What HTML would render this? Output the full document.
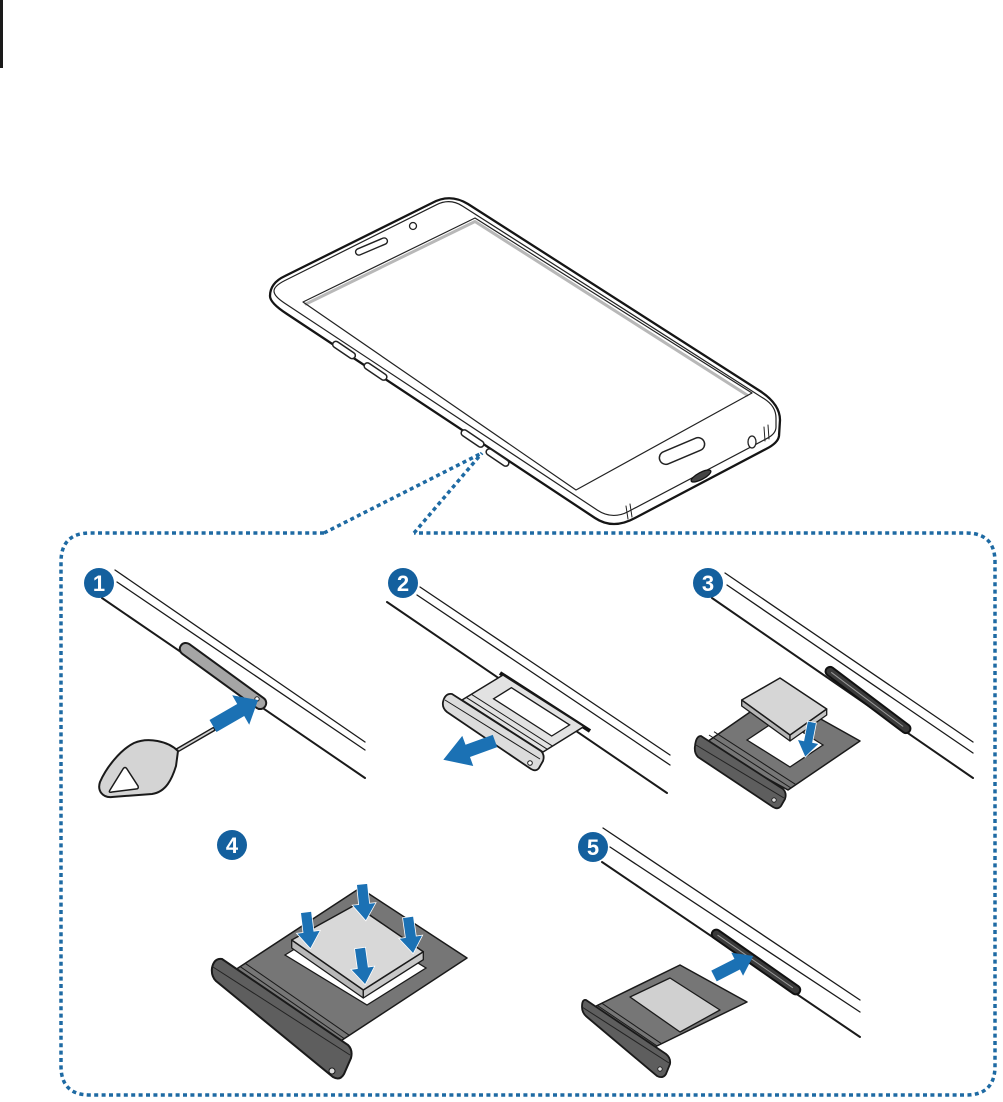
<!DOCTYPE html>
<html><head><meta charset="utf-8"><style>
html,body{margin:0;padding:0;background:#fff;}
svg{display:block;}
.b{font-family:"Liberation Sans",sans-serif;font-weight:bold;font-size:22px;fill:#fff;text-anchor:middle;}
</style></head><body>
<svg width="1003" height="1102" viewBox="0 0 1003 1102" xmlns="http://www.w3.org/2000/svg">
<rect width="1003" height="1102" fill="#fff"/>
<rect x="0" y="0" width="3" height="68" fill="#1a1a1a"/>

<!-- PHONE -->
<g stroke-linejoin="round" stroke-linecap="round">
<path d="M270,296 Q270,283 285,276 L432,203 Q450,193 468,204 L760,391 Q780,404 780,420 L779,436 Q778,443 766,449 L635,518 Q613,530 595,518 L287,314 Q270,303 270,296 Z" fill="#fff" stroke="#151515" stroke-width="2.3"/>
<path d="M274,291 Q274,286 284.7,280.6 L436.6,204.7 Q450,198 462.6,206.1 L764.2,398.8 Q776,406.3 776,418 L776,427 Q776,433.6 767.2,438.3 L628.2,511.6 Q612.3,520 597.3,510.1 L284,302.7 Q274,296.1 274,291 Z" fill="none" stroke="#222" stroke-width="1.2"/>
<polyline points="306,304 475,221.5 747,395" fill="none" stroke="#b8b8b8" stroke-width="3"/>
<polygon points="303,302 475,218 752,393 576,490" fill="none" stroke="#222" stroke-width="1.2"/>
<rect x="-17" y="-3.2" width="34" height="6.4" rx="3.2" transform="translate(371.5,246.5) rotate(-23)" fill="#fff" stroke="#222" stroke-width="1.4"/>
<circle cx="413" cy="226" r="3.5" fill="#fff" stroke="#222" stroke-width="1.3"/>
<rect x="-24" y="-6.5" width="48" height="13" rx="6.5" transform="translate(682,451) rotate(-23)" fill="#fff" stroke="#222" stroke-width="1.5"/>
<ellipse cx="701" cy="476" rx="11" ry="3.5" transform="rotate(-28 701 476)" fill="#444" stroke="#111" stroke-width="1.3"/>
<ellipse cx="752" cy="442" rx="4" ry="6" fill="#fff" stroke="#222" stroke-width="1.3"/>
<line x1="626" y1="506" x2="628" y2="519" stroke="#222" stroke-width="1"/>
<line x1="630" y1="504" x2="632" y2="517" stroke="#222" stroke-width="1"/>
<line x1="764" y1="427" x2="765" y2="441" stroke="#222" stroke-width="1"/>
<line x1="768" y1="425" x2="769" y2="439" stroke="#222" stroke-width="1"/>
<rect x="-13" y="-3.2" width="26" height="6.4" rx="3.2" transform="translate(344,350) rotate(34)" fill="#fff" stroke="#222" stroke-width="1.5"/>
<rect x="-13" y="-3.2" width="26" height="6.4" rx="3.2" transform="translate(375.5,371.5) rotate(34)" fill="#fff" stroke="#222" stroke-width="1.5"/>
<rect x="-13" y="-3.2" width="26" height="6.4" rx="3.2" transform="translate(472.5,438.5) rotate(34)" fill="#fff" stroke="#222" stroke-width="1.5"/>
<rect x="-13" y="-3.2" width="26" height="6.4" rx="3.2" transform="translate(497.5,457.5) rotate(34)" fill="#fff" stroke="#222" stroke-width="1.5"/>
</g>

<!-- DOTTED CALLOUT -->
<g fill="none" stroke="#1e6aa3" stroke-width="3.5" stroke-dasharray="4 3.4">
<path d="M324,533 L90,533 Q61,533 61,562 L61,1066 Q61,1095 90,1095 L966,1095 Q995,1095 995,1066 L995,562 Q995,533 966,533 L414,533"/>
<path d="M324,533 L482,453"/>
<path d="M414,533 L482,453"/>
</g>

<!-- PANEL 1 -->
<g stroke="#1a1a1a" stroke-linecap="round">
<line x1="115" y1="570" x2="365" y2="742" stroke-width="1.3"/>
<line x1="117" y1="582" x2="365" y2="750" stroke-width="1.3"/>
<line x1="102" y1="598" x2="365" y2="778" stroke-width="2"/>
</g>
<rect x="-52" y="-6" width="104" height="12" rx="6" transform="translate(223,676) rotate(36)" fill="#a5a5a5" stroke="#1a1a1a" stroke-width="2"/>
<circle cx="257" cy="699" r="2.2" fill="#fff" stroke="#222" stroke-width="1"/>
<line x1="176" y1="751" x2="214" y2="729" stroke="#1a1a1a" stroke-width="4.5" stroke-linecap="round"/>
<line x1="177" y1="750.5" x2="213" y2="729.5" stroke="#d0d0d0" stroke-width="1.8" stroke-linecap="round"/>
<path d="M178,751 C168,741 148,737 134,743 C120,750 106,768 100,782 C97,791 103,798 112,797 L152,794 C166,792 172,779 176,766 Z" fill="#d4d4d4" stroke="#1a1a1a" stroke-width="2" stroke-linejoin="round"/>
<path d="M110,790 L123,769 Q125,766 127,769 L138,786 Q139,789 136,789 L112,792 Q108,793 110,790 Z" fill="#fff" stroke="#1a1a1a" stroke-width="1.5"/>
<path d="M0,-7 L32,-7 L32,-17 L52,0 L32,17 L32,7 L0,7 Z" transform="translate(213,726) rotate(-30)" fill="#1b71b4"/>
<circle cx="99" cy="583" r="15" fill="#14609e"/>
<text class="b" x="99" y="591">1</text>

<!-- PANEL 2 -->
<g stroke="#1a1a1a" stroke-linecap="round">
<line x1="420" y1="587" x2="670" y2="755" stroke-width="1.3"/>
<line x1="417" y1="595" x2="670" y2="765" stroke-width="1.3"/>
<line x1="387" y1="602" x2="667" y2="793" stroke-width="2"/>
</g>
<line x1="500" y1="673" x2="590" y2="731" stroke="#111" stroke-width="4"/>
<polygon points="462,700 503,675 584,726.5 543,752" fill="#e2e2e2" stroke="#1a1a1a" stroke-width="1.5" stroke-linejoin="round"/>
<polygon points="493.6,698.8 551.7,736 569.6,724.9 511.4,687.7" fill="#fff" stroke="#1a1a1a" stroke-width="1.3"/>
<line x1="466.5" y1="697.6" x2="547.4" y2="749.3" stroke="#1a1a1a" stroke-width="1"/>
<line x1="471.6" y1="694.4" x2="552.5" y2="746.1" stroke="#1a1a1a" stroke-width="1"/>
<path d="M452,694 L541,751 Q545,755 543,761 L539,768 Q536,772 531,769 L447,712 Q442,708 443,702 Q445,693 452,694 Z" fill="#dcdcdc" stroke="#1a1a1a" stroke-width="1.8"/>
<line x1="445" y1="700" x2="540" y2="759" stroke="#1a1a1a" stroke-width="1"/>
<circle cx="530" cy="763" r="2.3" fill="#fff" stroke="#1a1a1a" stroke-width="1"/>
<path d="M0,-6.5 L29,-6.5 L29,-16 L55,0 L29,16 L29,6.5 L0,6.5 Z" transform="translate(495,741) rotate(160)" fill="#1b71b4"/>
<circle cx="403" cy="583" r="15" fill="#14609e"/>
<text class="b" x="403" y="591">2</text>

<!-- PANEL 3 -->
<g stroke="#1a1a1a" stroke-linecap="round">
<line x1="725" y1="573" x2="973" y2="742" stroke-width="1.3"/>
<line x1="727" y1="585" x2="973" y2="753" stroke-width="1.3"/>
<line x1="712" y1="598" x2="973" y2="778" stroke-width="2"/>
</g>
<rect x="-52" y="-4.5" width="104" height="9" rx="4.5" transform="translate(868,700) rotate(37)" fill="#3a3a3a" stroke="#111" stroke-width="2"/>
<line x1="-46" y1="0" x2="44" y2="0" transform="translate(868,700) rotate(37)" stroke="#999" stroke-width="1"/>
<polygon points="704,744 776,694 860,741 788,790" fill="#767676" stroke="#1a1a1a" stroke-width="1.5" stroke-linejoin="round"/>
<line x1="709" y1="735" x2="791" y2="788" stroke="#1a1a1a" stroke-width="1"/>
<line x1="714" y1="731.7" x2="796" y2="784.7" stroke="#1a1a1a" stroke-width="1"/>
<polygon points="747,740 780,718 823,745 790,767" fill="#fff" stroke="#1a1a1a" stroke-width="1.3"/>
<path d="M701,736 L783,789 Q787,793 785,799 L781,806 Q778,810 773,807 L698,757 Q694,753 695,746 Q696,736 701,736 Z" fill="#5e5e5e" stroke="#1a1a1a" stroke-width="1.8"/>
<line x1="696" y1="745" x2="784" y2="798" stroke="#222" stroke-width="1"/>
<circle cx="774" cy="800" r="2.2" fill="#ddd" stroke="#1a1a1a" stroke-width="0.8"/>
<polygon points="741.7,700 790,735 790,741 741.7,706" fill="#b5b5b5" stroke="#1a1a1a" stroke-width="1.3" stroke-linejoin="round"/>
<polygon points="790,735 826.7,709 826.7,715 790,741" fill="#c6c6c6" stroke="#1a1a1a" stroke-width="1.3" stroke-linejoin="round"/>
<polygon points="741.7,700 780,678 826.7,709 790,735" fill="#d6d6d6" stroke="#1a1a1a" stroke-width="1.5" stroke-linejoin="round"/>
<path d="M-4.5,0 L4.5,0 L4.5,20 L11,20 L0,36 L-11,20 L-4.5,20 Z" transform="translate(812,722) rotate(11)" fill="#1b71b4" stroke="#fff" stroke-width="0.8"/>
<circle cx="708" cy="583" r="15" fill="#14609e"/>
<text class="b" x="708" y="591">3</text>

<!-- PANEL 4 -->
<polygon points="233.5,971 360,888 467,958 337.6,1043" fill="#767676" stroke="#1a1a1a" stroke-width="1.5" stroke-linejoin="round"/>
<line x1="240.2" y1="966.6" x2="344.3" y2="1038.6" stroke="#1a1a1a" stroke-width="1"/>
<line x1="245.2" y1="963.3" x2="349.3" y2="1035.3" stroke="#1a1a1a" stroke-width="1"/>
<polygon points="285,955 345,918 426,968 367,1005" fill="#fff" stroke="#1a1a1a" stroke-width="1.3"/>
<path d="M222,959 L348,1045 Q353,1050 351,1058 L344,1074 Q340,1081 333,1077 L216,981 Q211,976 212,968 Q214,958 222,959 Z" fill="#5e5e5e" stroke="#1a1a1a" stroke-width="2"/>
<line x1="213" y1="967" x2="350" y2="1055" stroke="#222" stroke-width="1"/>
<circle cx="332" cy="1071" r="3" fill="#ddd" stroke="#1a1a1a" stroke-width="1"/>
<polygon points="291.7,940 363.3,990 363.3,998 291.7,948" fill="#b8b8b8" stroke="#1a1a1a" stroke-width="1.3" stroke-linejoin="round"/>
<polygon points="363.3,990 423.3,951.7 423.3,959.7 363.3,998" fill="#c8c8c8" stroke="#1a1a1a" stroke-width="1.3" stroke-linejoin="round"/>
<polygon points="291.7,940 355,905 423.3,951.7 363.3,990" fill="#d8d8d8" stroke="#1a1a1a" stroke-width="1.5" stroke-linejoin="round"/>
<g fill="#1b71b4" stroke="#fff" stroke-width="0.8">
<path d="M-5.5,0 L5.5,0 L5.5,20 L12,20 L0,37 L-12,20 L-5.5,20 Z" transform="translate(362,884) rotate(-6)"/>
<path d="M-5.5,0 L5.5,0 L5.5,20 L12,20 L0,37 L-12,20 L-5.5,20 Z" transform="translate(306,912) rotate(-7)"/>
<path d="M-5.5,0 L5.5,0 L5.5,20 L12,20 L0,37 L-12,20 L-5.5,20 Z" transform="translate(408,917) rotate(-8)"/>
<path d="M-5.5,0 L5.5,0 L5.5,20 L12,20 L0,37 L-12,20 L-5.5,20 Z" transform="translate(360,948) rotate(-8)"/>
</g>
<circle cx="232" cy="845" r="15" fill="#14609e"/>
<text class="b" x="232" y="853">4</text>

<!-- PANEL 5 -->
<g stroke="#1a1a1a" stroke-linecap="round">
<line x1="603" y1="828" x2="860" y2="1000" stroke-width="1.3"/>
<line x1="610" y1="847" x2="860" y2="1012" stroke-width="1.3"/>
<line x1="602" y1="862" x2="860" y2="1037" stroke-width="2"/>
</g>
<rect x="-53" y="-4.5" width="106" height="9" rx="4.5" transform="translate(756,962) rotate(35)" fill="#3a3a3a" stroke="#111" stroke-width="2"/>
<line x1="-47" y1="0" x2="45" y2="0" transform="translate(756,962) rotate(35)" stroke="#999" stroke-width="1"/>
<polygon points="591,1008.5 680,965 747,1002 650.7,1049" fill="#767676" stroke="#1a1a1a" stroke-width="1.5" stroke-linejoin="round"/>
<line x1="597.3" y1="1005.4" x2="657" y2="1045.9" stroke="#1a1a1a" stroke-width="1"/>
<line x1="601.8" y1="1003.2" x2="661.5" y2="1043.7" stroke="#1a1a1a" stroke-width="1"/>
<polygon points="630,997 670,978 720,1010 680,1032" fill="#d0d0d0" stroke="#1a1a1a" stroke-width="1.3" stroke-linejoin="round"/>
<path d="M586,1000 L666,1054 Q671,1058 670,1064 L666,1074 Q663,1079 657,1076 L587,1017 Q582,1013 582,1007 Q582,999 586,1000 Z" fill="#5e5e5e" stroke="#1a1a1a" stroke-width="1.8"/>
<line x1="582" y1="1007" x2="669" y2="1063" stroke="#222" stroke-width="1"/>
<circle cx="660" cy="1069" r="2.2" fill="#ddd" stroke="#1a1a1a" stroke-width="0.8"/>
<path d="M0,-6 L26,-6 L26,-13 L44,0 L26,13 L26,6 L0,6 Z" transform="translate(714,976) rotate(-27)" fill="#1b71b4"/>
<circle cx="593" cy="847" r="15" fill="#14609e"/>
<text class="b" x="593" y="855">5</text>
</svg>
</body></html>
